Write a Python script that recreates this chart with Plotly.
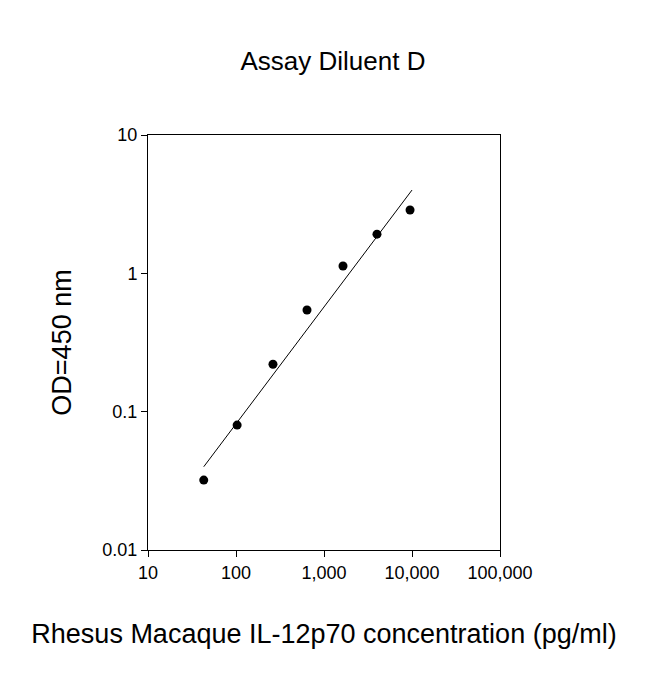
import plotly.graph_objects as go

conc = [43, 103, 263, 641, 1644, 4000, 9500]
od = [0.032, 0.08, 0.22, 0.543, 1.13, 1.92, 2.87]
fit_x = [43, 10000]
fit_y = [0.040, 4.0]

x_ticks = [10, 100, 1000, 10000, 100000]
x_labels = ["10", "100", "1,000", "10,000", "100,000"]
y_ticks = [0.01, 0.1, 1, 10]
y_labels = ["0.01", "0.1", "1", "10"]

fig = go.Figure()
fig.add_trace(go.Scatter(x=fit_x, y=fit_y, mode="lines",
                         line=dict(color="black", width=1)))
fig.add_trace(go.Scatter(x=conc, y=od, mode="markers",
                         marker=dict(color="black", size=9)))

axis_common = dict(type="log", showgrid=False, zeroline=False, showline=True,
                   linecolor="black", linewidth=1, mirror=True, ticks="outside",
                   ticklen=6, tickcolor="black", tickfont=dict(size=18, color="black"))

fig.update_xaxes(range=[1, 5], tickvals=x_ticks, ticktext=x_labels,
                 title=dict(text="Rhesus Macaque IL-12p70 concentration (pg/ml)",
                            font=dict(size=27, color="black"), standoff=42),
                 **axis_common)
fig.update_yaxes(range=[-2, 1], tickvals=y_ticks, ticktext=y_labels,
                 title=dict(text="OD=450 nm", font=dict(size=27, color="black"), standoff=22),
                 **axis_common)

fig.update_layout(
    width=650, height=674,
    margin=dict(l=140, r=158, t=127, b=132),
    title=dict(text="Assay Diluent D", x=0.5, xanchor="center", y=0.935,
               font=dict(size=26, color="black")),
    font=dict(family="Liberation Sans, Arial, sans-serif"),
    plot_bgcolor="white", paper_bgcolor="white",
    showlegend=False,
)

fig.write_html("out.html")
